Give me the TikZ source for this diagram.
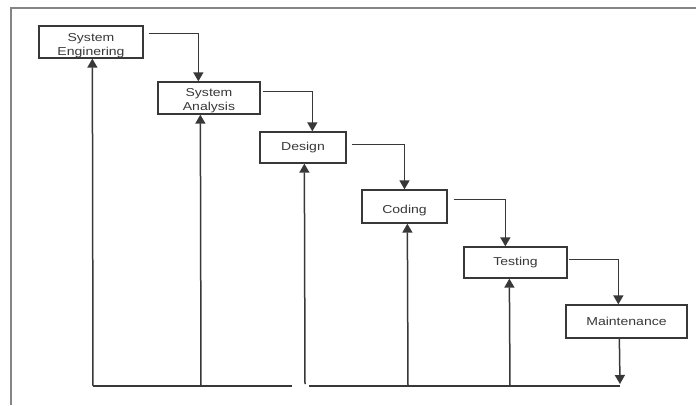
\documentclass[tikz,border=0pt]{standalone}
\usepackage{fontspec}
\setmainfont{Liberation Sans}
\usetikzlibrary{arrows.meta,calc}
\definecolor{ink}{HTML}{383838}
\definecolor{framegray}{HTML}{858585}
\newcommand\phase[2][0pt]{\raisebox{#1}[\height][\depth]{\scalebox{1.22}[1]{\begin{tabular}{@{}c@{}}#2\end{tabular}}}}
\begin{document}
\begin{tikzpicture}[x=1pt,y=-1pt,
  phasebox/.style={draw=ink,line width=1.3pt,rectangle,inner sep=0pt,
    font=\fontsize{11.5}{13.5}\selectfont,text=ink},
  flow/.style={draw=ink,line width=1.5pt,-{Triangle[length=9pt,width=10pt]}},
  plain/.style={draw=ink,line width=1.5pt}]
\useasboundingbox (0,0) rectangle (696,405);
% outer frame (top and left edges)
\draw[framegray,line width=1.8pt] (696,8) -- (11,8) -- (11,405);

% phases
\node[phasebox,minimum width=104pt,minimum height=32pt] (se) at (91,42)
  {\phase[-4pt]{System\\Enginering}};
\node[phasebox,minimum width=102pt,minimum height=32pt] (sa) at (209,98)
  {\phase[-3pt]{System\\Analysis}};
\node[phasebox,minimum width=86pt,minimum height=31pt] (de) at (303,147.5)
  {\phase{Design}};
\node[phasebox,minimum width=85pt,minimum height=33pt] (co) at (404.5,206.5)
  {\phase[-4pt]{Coding}};
\node[phasebox,minimum width=103pt,minimum height=31pt] (te) at (515.5,262.5)
  {\phase{Testing}};
\node[phasebox,minimum width=121pt,minimum height=33pt] (ma) at (626.5,321.5)
  {\phase[-1pt]{Maintenance}};

% forward steps
\draw[flow] ($(se.north east)+(5,8)$) -| ($(sa.north west)+(41,0)$);
\draw[flow] ($(sa.north east)+(2,10)$) -| ($(de.north west)+(53,0)$);
\draw[flow] ($(de.north east)+(5,13)$) -| (co.north);
\draw[flow] ($(co.north east)+(6,10)$) -| ($(te.north west)+(42,0)$);
\draw[flow] ($(te.north east)+(1,13)$) -| ($(ma.north west)+(53,0)$);

% return line along the bottom
\coordinate (b1) at (93,386);
\coordinate (b2) at (292,386);
\coordinate (b3) at (309,386);
\coordinate (b4) at (620,386);
\coordinate (mend) at (620,384);
\draw[flow] ($(ma.south west)+(54,0)$) -- (mend);
\draw[plain] (b1) -- (b2);
\draw[plain] (b3) -- (b4);

% feedback to every earlier phase
\draw[flow] (b1) -- ($(se.south west)+(54,0)$);
\draw[flow] ($(b1)+(108,0)$) -- ($(sa.south west)+(43,0)$);
\draw[flow] (305,384) -- ($(de.south west)+(45,0)$);
\draw[flow] (408,386) -- ($(co.south west)+(46,0)$);
\draw[flow] (510,386) -- ($(te.south west)+(46,0)$);
\end{tikzpicture}
\end{document}
